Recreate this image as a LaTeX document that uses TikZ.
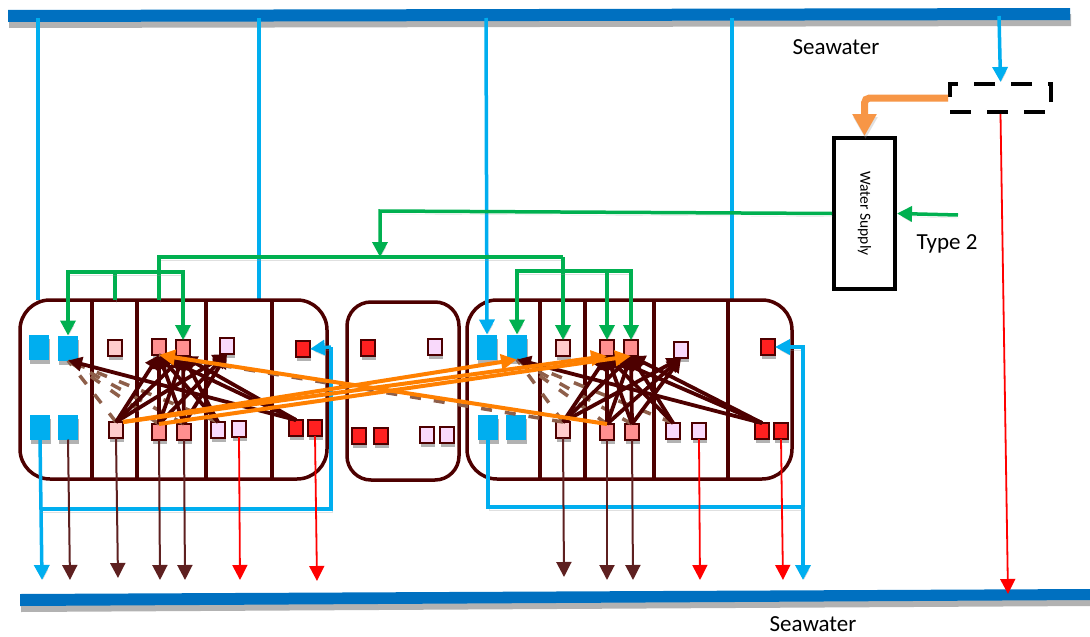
\documentclass[tikz,border=0pt]{standalone}
\usepackage{fontspec}
\setmainfont{Carlito}
\usepackage{tikz}
\usetikzlibrary{arrows.meta,shadows}
\usepackage{xcolor}
\definecolor{seablue}{HTML}{0070C0}
\definecolor{pipeblue}{HTML}{00AEEF}
\definecolor{pipegreen}{HTML}{00B050}
\definecolor{pipeorange}{HTML}{F79646}
\definecolor{flowgold}{HTML}{FF8000}
\definecolor{walldark}{HTML}{4D0000}
\definecolor{drainbrown}{HTML}{5E2020}
\definecolor{fadebrown}{HTML}{8E5F4A}
\definecolor{tankpale}{HTML}{FFCCCC}
\definecolor{tankmid}{HTML}{FF8F8F}
\definecolor{tanklilac}{HTML}{F9D9FB}
\definecolor{tankred}{HTML}{FF2020}

\begin{document}
\begin{tikzpicture}[
  x=1pt, y=-1pt,
  lift/.style={preaction={draw=black!40, opacity=.3,
                transform canvas={shift={(1pt,-3pt)}}}},
  seabar/.style={fill=seablue, drop shadow={shadow xshift=1pt, shadow yshift=-6pt,
                 fill=black, opacity=.3}},
  room/.style={draw=walldark, fill=white, line width=3.5pt, rounded corners=30pt,
               inner sep=0pt, outer sep=0pt},
  wall/.style={draw=walldark, line width=3.5pt},
  bluetank/.style={fill=pipeblue, minimum width=20pt, minimum height=25pt,
                   inner sep=0pt, outer sep=0pt,
                   drop shadow={shadow xshift=1pt, shadow yshift=-4pt, fill=black, opacity=.3}},
  tank/.style={draw=walldark, line width=1.5pt, minimum width=14pt, minimum height=16pt,
               inner sep=0pt, outer sep=0pt,
               drop shadow={shadow xshift=1pt, shadow yshift=-4pt, fill=black, opacity=.3}},
  pale/.style={tank, fill=tankpale},
  mid/.style={tank, fill=tankmid},
  lilac/.style={tank, fill=tanklilac},
  hot/.style={tank, fill=tankred},
  seapipe/.style={draw=pipeblue, line width=3.5pt, lift,
                  -{Triangle[length=15pt,width=15pt]}},
  seaplain/.style={draw=pipeblue, line width=3.5pt, lift},
  feed/.style={draw=pipegreen, line width=3.5pt, lift,
               -{Triangle[length=15pt,width=15pt]}},
  feedplain/.style={draw=pipegreen, line width=3.5pt, lift},
  drain/.style={draw=drainbrown, line width=2pt,
                -{Triangle[length=15pt,width=15pt]}},
  waste/.style={draw=red, line width=1.8pt,
                -{Triangle[length=15pt,width=15pt]}},
  fan/.style={draw=walldark, line width=3.8pt,
              -{Triangle[length=14pt,width=14pt]}},
  fade/.style={draw=fadebrown, line width=3.5pt, dash pattern=on 11pt off 13pt},
  flow/.style={draw=flowgold, line width=4pt,
               -{Triangle[length=16pt,width=15pt]}},
  caption/.style={font=\fontsize{23}{26}\selectfont, inner sep=0pt},
]
\useasboundingbox (0,0) rectangle (1090,637);

% Seawater bars
\path[seabar] (8,10) -- (1070,8) -- (1070,20) -- (8,22) -- cycle;
\path[seabar] (20,594) -- (1090,589) -- (1090,600) -- (20,606) -- cycle;
\node[caption] (seatop) at (836,47) {Seawater};
\node[caption] (seabot) at (813,624) {Seawater};

% Taps on the top bar
\coordinate (tap1) at (38,18);
\coordinate (tap2) at (259,18);
\coordinate (tap3) at (486,18);
\coordinate (tap4) at (732,18);
\coordinate (tap5) at (999,16);

% Rooms
\draw[seaplain] (tap1) -- (38,300);
\draw[seaplain] (tap2) -- (259,300);
\draw[seaplain] (tap4) -- (732,300);
\node[room, minimum width=307pt, minimum height=179pt] (lroom) at (173.5,389.5) {};
\node[room, minimum width=112pt, minimum height=178pt, rounded corners=24pt] (mroom) at (403,391) {};
\node[room, minimum width=325pt, minimum height=179pt] (rroom) at (629.5,389.5) {};

% Partitions
\draw[wall] (92,300) -- (92,479);
\draw[wall] (137,300) -- (137,479);
\draw[wall] (206,300) -- (206,479);
\draw[wall] (272,300) -- (272,479);
\draw[wall] (540,300) -- (540,479);
\draw[wall] (585,300) -- (585,479);
\draw[wall] (654,300) -- (654,479);
\draw[wall] (728,300) -- (728,479);

% Left room tanks
\node[bluetank] (lbt1) at (39,347) {};
\node[bluetank] (lbt2) at (68,348) {};
\node[bluetank] (lbb1) at (40,427) {};
\node[bluetank] (lbb2) at (68,427) {};
\node[pale] (lt1) at (115,348) {};
\node[mid] (lt2) at (159,347) {};
\node[mid] (lt3) at (183,348) {};
\node[lilac] (lt4) at (227,346) {};
\node[hot] (lt5) at (303,349) {};
\node[pale] (lb1) at (116,430) {};
\node[mid] (lb2) at (159,432) {};
\node[mid] (lb3) at (184,432) {};
\node[lilac] (lb4) at (218,430) {};
\node[lilac] (lb5) at (239,429) {};
\node[hot] (lb6) at (296,428) {};
\node[hot] (lb7) at (315,428) {};

% Middle room tanks
\node[hot] (mt1) at (368,348) {};
\node[lilac] (mt2) at (435,347) {};
\node[hot] (mb1) at (359,436) {};
\node[hot] (mb2) at (381,436) {};
\node[lilac] (mb3) at (427,435) {};
\node[lilac] (mb4) at (447,435) {};

% Right room tanks
\node[bluetank] (rbt1) at (487,347) {};
\node[bluetank] (rbt2) at (517,347) {};
\node[bluetank] (rbb1) at (488,427) {};
\node[bluetank] (rbb2) at (516,427) {};
\node[pale] (rt1) at (563,348) {};
\node[mid] (rt2) at (607,348) {};
\node[mid] (rt3) at (631,348) {};
\node[lilac] (rt4) at (681,350) {};
\node[hot] (rt5) at (768,347) {};
\node[pale] (rb1) at (563,430) {};
\node[mid] (rb2) at (607,432) {};
\node[mid] (rb3) at (632,432) {};
\node[lilac] (rb4) at (673,431) {};
\node[lilac] (rb5) at (699,431) {};
\node[hot] (rb6) at (762,431) {};
\node[hot] (rb7) at (781,431) {};

% Seawater pipes
\draw[seapipe] (tap3) -- (rbt1.north);
\draw[seapipe] (lbb1.south) -- (42,580);
\draw[seaplain] (40,509) -- (331,509) -- (331,347);
\draw[seapipe] (331,347) -- (lt5.east);
\draw[seapipe] (rbb1.south) |- (803,507) -- (803,580);
\draw[seapipe] (803,507) |- (rt5.east);

% Drains
\draw[drain] (lbb2.south) -- (70,580);
\draw[drain] (lb1.south) -- (118,578);
\draw[drain] (lb2.south) -- (160,580);
\draw[drain] (lb3.south) -- (185,580);
\draw[waste] (lb5.south) -- (240,580);
\draw[waste] (lb7.south) -- (317,581);
\draw[drain] (rb1.south) -- (564,577);
\draw[drain] (rb2.south) -- (607,580);
\draw[drain] (rb3.south) -- (633,580);
\draw[waste] (rb5.south) -- (700,580);
\draw[waste] (rb7.south) -- (783,580);

% Water supply
\node[draw=black, line width=4.5pt, minimum width=61pt, minimum height=151pt, inner sep=0pt,
      outer sep=2pt] (supply) at (864.5,213.5)
  {\rotatebox{-90}{\fontsize{15.5}{18}\selectfont Water Supply}};
\node[draw=black, line width=4.5pt, dash pattern=on 21pt off 16pt, minimum width=101pt,
      minimum height=28pt, inner sep=0pt, outer sep=2pt] (intake) at (1000.5,98) {};
\node[caption] (type2) at (947,244) {Type 2};
\coordinate (feedin) at (958,215);
\draw[seapipe] (tap5) -- (intake.north);
\draw[draw=red, line width=1.8pt, -{Triangle[length=15pt,width=15pt]}] (intake.south) -- (1008,594);
\draw[draw=pipeorange, line width=7pt, rounded corners=5pt, lift,
      -{Triangle[length=22pt,width=23pt]}] (intake.west) -| (supply.north);
\draw[feed] (feedin) -- (supply.east);

% Green feeds
\coordinate (feedl) at (380,257);
\draw[feed] (supply.west) -- (380,211) -- (feedl);
\draw[feedplain] (159,300) -- (159,257) -- (563,257);
\draw[feed] (563,257) -- (rt1.north);
\draw[feedplain] (115,300) -- (115,272);
\draw[feed] (115,272) -| (lbt2.north);
\draw[feed] (115,272) -| (lt3.north);
\draw[feed] (563,271) -| (rbt2.north);
\draw[feed] (563,271) -| (rt3.north);
\draw[feed] (607,271) -- (rt2.north);

% Left room fan
\draw[fade] (lb1.north) -- (lbt2.south);
\draw[fade] (lb2.north) -- (lbt2.south);
\draw[fade] (lb3.north) -- (lbt2.south);
\draw[fade] (lb4.north) -- (lbt2.south);
\draw[fan] (lb1.north) -- (lt2.south);
\draw[fan] (lb1.north) -- (lt3.south);
\draw[fan] (lb1.north) -- (lt4.south);
\draw[fan] (lb2.north) -- (lt2.south);
\draw[fan] (lb2.north) -- (lt3.south);
\draw[fan] (lb2.north) -- (lt4.south);
\draw[fan] (lb3.north) -- (lt2.south);
\draw[fan] (lb3.north) -- (lt3.south);
\draw[fan] (lb3.north) -- (lt4.south);
\draw[fan] (lb4.north) -- (lt2.south);
\draw[fan] (lb4.north) -- (lt3.south);
\draw[fan] (lb6.north) -- (lbt2.south);
\draw[fan] (lb6.north) -- (lt2.south);
\draw[fan] (lb6.north) -- (lt3.south);

% Right room fan
\draw[fade] (rb1.north) -- (rbt2.south);
\draw[fade] (rb2.north) -- (rbt2.south);
\draw[fade] (rb3.north) -- (rbt2.south);
\draw[fade] (rb4.north) -- (rbt2.south);
\draw[fade] (rb1.north) -- (lt2.south);
\draw[fan] (rb1.north) -- (rt2.south);
\draw[fan] (rb1.north) -- (rt3.south);
\draw[fan] (rb1.north) -- (rt4.south);
\draw[fan] (rb2.north) -- (rt2.south);
\draw[fan] (rb2.north) -- (rt3.south);
\draw[fan] (rb2.north) -- (rt4.south);
\draw[fan] (rb3.north) -- (rt2.south);
\draw[fan] (rb3.north) -- (rt3.south);
\draw[fan] (rb3.north) -- (rt4.south);
\draw[fan] (rb4.north) -- (rt2.south);
\draw[fan] (rb4.north) -- (rt3.south);
\draw[fan] (rb6.north) -- (rbt2.south);
\draw[fan] (rb6.north) -- (rt2.south);
\draw[fan] (rb6.north) -- (rt3.south);

% Transfers between the rooms
\draw[flow] (lb1.north east) -- (rbt2.south);
\draw[flow] (lb1.north east) -- (rt2.south);
\draw[flow] (lb2.north) -- (rt3.south);
\draw[flow] (rb2.north) -- (lt2.south);
\end{tikzpicture}
\end{document}
